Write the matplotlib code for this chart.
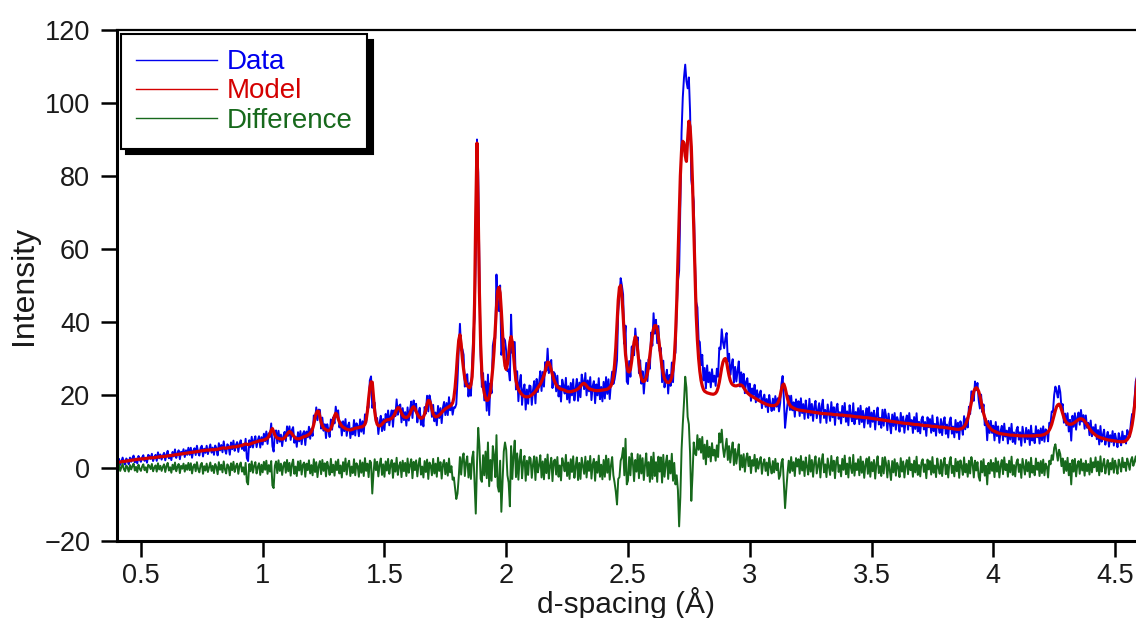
import matplotlib.pyplot as plt
import numpy as np

plt.rcParams["font.family"] = ["Liberation Sans", "DejaVu Sans"]

# d-spacing grid (Å), one sample every 0.005
d_spacing = np.round(np.linspace(0.40, 4.60, 841), 3)

# refined model (one row = 0.1 Å)
model = [
    1.5, 1.55, 1.6, 1.65, 1.7, 1.75, 1.8, 1.85, 1.9, 1.95, 2.0, 2.05, 2.1, 2.15, 2.2, 2.25, 2.3, 2.35, 2.4, 2.45,
    2.5, 2.5, 2.5, 2.55, 2.6, 2.65, 2.7, 2.75, 2.8, 2.8, 2.8, 2.85, 2.9, 2.95, 3.0, 3.05, 3.1, 3.1, 3.1, 3.15,
    3.2, 3.25, 3.3, 3.35, 3.4, 3.45, 3.5, 3.55, 3.6, 3.65, 3.7, 3.75, 3.8, 3.85, 3.9, 3.95, 4.0, 4.05, 4.1, 4.15,
    4.2, 4.25, 4.3, 4.35, 4.4, 4.45, 4.5, 4.55, 4.6, 4.65, 4.7, 4.75, 4.8, 4.85, 4.9, 4.9, 4.9, 4.95, 5.0, 5.0,
    5.0, 5.05, 5.1, 5.15, 5.2, 5.3, 5.4, 5.5, 5.5, 5.45, 5.4, 5.5, 5.6, 5.65, 5.7, 5.75, 5.8, 5.8, 5.8, 5.9,
    6.0, 6.05, 6.1, 6.2, 6.3, 6.5, 6.6, 6.5, 6.4, 6.5, 6.6, 6.75, 6.9, 7.0, 7.1, 7.2, 7.3, 7.4, 7.5, 7.55,
    7.6, 7.7, 7.8, 8.0, 8.2, 8.7, 9.5, 10.3, 10.8, 10.0, 9.0, 8.5, 8.2, 8.1, 8.0, 7.95, 7.9, 8.0, 8.3, 8.7,
    9.2, 9.7, 10.0, 9.8, 9.4, 8.9, 8.5, 8.2, 8.0, 8.0, 8.0, 8.1, 8.3, 8.45, 8.6, 8.7, 8.8, 9.0, 9.2, 9.5,
    10.0, 10.8, 12.0, 13.8, 15.0, 15.6, 15.5, 14.0, 12.5, 11.6, 11.0, 10.7, 10.5, 10.3, 10.2, 10.4, 10.8, 11.7, 13.0, 14.3,
    15.0, 14.6, 13.5, 12.6, 12.0, 11.5, 11.2, 11.0, 10.8, 10.6, 10.5, 10.45, 10.4, 10.5, 10.6, 10.75, 10.9, 10.95, 11.0, 11.1,
    11.2, 11.25, 11.3, 11.6, 12.0, 13.2, 15.5, 19.0, 22.0, 23.6, 23.5, 19.5, 15.5, 13.2, 12.0, 11.6, 11.5, 11.7, 12.0, 12.4,
    12.8, 13.0, 13.2, 13.25, 13.3, 13.45, 13.6, 14.0, 14.5, 15.2, 16.0, 16.5, 16.5, 15.8, 15.0, 14.4, 14.0, 13.9, 13.8, 14.0,
    14.3, 14.9, 15.8, 16.5, 16.8, 16.3, 15.5, 14.8, 14.2, 13.8, 13.6, 13.7, 14.0, 14.8, 16.0, 17.5, 18.5, 18.4, 17.5, 16.0,
    14.8, 14.3, 14.0, 14.1, 14.2, 14.5, 14.8, 15.2, 15.6, 15.9, 16.2, 16.4, 16.6, 16.8, 17.0, 17.3, 17.8, 19.2, 22.0, 26.0,
    31.0, 35.0, 36.5, 34.0, 30.0, 27.0, 24.5, 23.2, 22.5, 22.2, 22.0, 22.8, 25.0, 32.0, 45.0, 70.0, 89.0, 70.0, 48.0, 34.0,
    26.0, 22.5, 20.5, 19.2, 18.5, 18.6, 19.5, 21.0, 24.0, 27.5, 32.0, 38.0, 44.0, 48.5, 49.5, 48.0, 43.0, 37.0, 31.0, 28.0,
    27.0, 28.5, 31.0, 34.5, 36.0, 34.5, 31.0, 27.0, 24.0, 22.5, 21.5, 21.0, 20.5, 20.1, 19.8, 19.6, 19.5, 19.5, 19.5, 19.6,
    19.8, 20.0, 20.3, 20.6, 21.0, 21.5, 22.0, 22.5, 23.0, 23.7, 24.5, 25.4, 26.5, 28.0, 29.0, 28.9, 28.0, 26.8, 25.5, 24.4,
    23.5, 22.8, 22.3, 22.0, 21.8, 21.6, 21.5, 21.4, 21.3, 21.1, 21.0, 20.9, 20.9, 20.9, 21.0, 21.1, 21.2, 21.3, 21.5, 21.7,
    22.0, 22.4, 22.8, 23.1, 23.2, 22.9, 22.5, 22.1, 21.8, 21.6, 21.5, 21.4, 21.3, 21.25, 21.2, 21.2, 21.2, 21.25, 21.3, 21.35,
    21.4, 21.45, 21.5, 21.6, 21.8, 22.1, 22.5, 23.4, 25.0, 28.3, 33.0, 39.5, 46.0, 49.5, 50.0, 47.0, 42.0, 36.0, 31.0, 28.2,
    26.5, 26.3, 27.0, 29.2, 32.0, 34.5, 36.0, 34.8, 32.0, 28.8, 26.0, 24.6, 23.8, 23.7, 24.0, 24.8, 26.0, 28.2, 31.0, 34.0,
    36.5, 38.2, 39.0, 39.0, 38.0, 35.8, 33.0, 30.0, 27.5, 25.8, 24.5, 23.9, 23.5, 23.4, 23.5, 24.0, 25.0, 27.0, 30.0, 36.0,
    45.0, 57.0, 70.0, 80.0, 87.0, 89.5, 89.0, 85.5, 84.0, 90.0, 95.0, 93.5, 88.0, 78.0, 66.0, 53.0, 42.0, 35.0, 30.0, 26.5,
    24.0, 22.5, 21.5, 21.0, 20.8, 20.6, 20.5, 20.4, 20.3, 20.25, 20.2, 20.3, 20.5, 21.0, 22.0, 23.5, 25.5, 27.5, 29.0, 29.8,
    30.0, 29.0, 27.0, 25.3, 24.0, 23.2, 22.8, 22.6, 22.5, 22.5, 22.6, 22.7, 22.8, 22.7, 22.5, 22.0, 21.5, 21.0, 20.6, 20.3,
    20.0, 19.8, 19.6, 19.4, 19.2, 19.0, 18.8, 18.6, 18.4, 18.2, 18.0, 17.85, 17.7, 17.55, 17.4, 17.3, 17.2, 17.15, 17.1, 17.1,
    17.1, 17.2, 17.4, 17.8, 18.5, 19.8, 21.5, 22.7, 23.0, 22.0, 20.5, 19.0, 17.8, 17.2, 16.8, 16.6, 16.4, 16.25, 16.1, 16.0,
    15.9, 15.85, 15.8, 15.75, 15.7, 15.65, 15.6, 15.55, 15.5, 15.45, 15.4, 15.35, 15.3, 15.25, 15.2, 15.15, 15.1, 15.05, 15.0, 14.95,
    14.9, 14.9, 14.9, 14.85, 14.8, 14.8, 14.8, 14.75, 14.7, 14.65, 14.6, 14.6, 14.6, 14.55, 14.5, 14.5, 14.5, 14.45, 14.4, 14.35,
    14.3, 14.3, 14.3, 14.25, 14.2, 14.15, 14.1, 14.05, 14.0, 14.0, 14.0, 13.95, 13.9, 13.85, 13.8, 13.8, 13.8, 13.75, 13.7, 13.65,
    13.6, 13.55, 13.5, 13.45, 13.4, 13.35, 13.3, 13.25, 13.2, 13.15, 13.1, 13.05, 13.0, 12.95, 12.9, 12.85, 12.8, 12.75, 12.7, 12.65,
    12.6, 12.55, 12.5, 12.45, 12.4, 12.35, 12.3, 12.25, 12.2, 12.2, 12.2, 12.15, 12.1, 12.05, 12.0, 11.95, 11.9, 11.9, 11.9, 11.85,
    11.8, 11.75, 11.7, 11.65, 11.6, 11.6, 11.6, 11.55, 11.5, 11.45, 11.4, 11.4, 11.4, 11.35, 11.3, 11.25, 11.2, 11.2, 11.2, 11.15,
    11.1, 11.05, 11.0, 10.95, 10.9, 10.85, 10.8, 10.75, 10.7, 10.65, 10.6, 10.6, 10.6, 10.7, 10.8, 11.0, 11.3, 11.8, 12.5, 13.5,
    14.8, 16.3, 18.0, 19.6, 21.0, 21.7, 22.0, 21.7, 21.0, 19.8, 18.2, 16.5, 15.0, 13.8, 12.8, 12.1, 11.5, 11.1, 10.7, 10.4,
    10.2, 10.05, 9.9, 9.75, 9.6, 9.5, 9.4, 9.35, 9.3, 9.25, 9.2, 9.15, 9.1, 9.05, 9.0, 9.0, 9.0, 8.95, 8.9, 8.9,
    8.9, 8.85, 8.8, 8.8, 8.8, 8.8, 8.8, 8.8, 8.8, 8.8, 8.8, 8.8, 8.8, 8.8, 8.8, 8.85, 8.9, 8.9, 8.9, 8.95,
    9.0, 9.1, 9.2, 9.4, 9.6, 9.9, 10.4, 11.1, 12.0, 13.2, 14.5, 15.8, 16.8, 17.3, 17.5, 17.0, 16.0, 14.9, 13.8, 13.0,
    12.5, 12.2, 12.0, 12.0, 12.0, 12.1, 12.3, 12.5, 12.8, 13.0, 13.3, 13.45, 13.5, 13.4, 13.2, 12.85, 12.4, 11.9, 11.3, 10.8,
    10.3, 9.9, 9.6, 9.3, 9.0, 8.8, 8.6, 8.45, 8.3, 8.2, 8.1, 8.0, 7.9, 7.8, 7.7, 7.65, 7.6, 7.55, 7.5, 7.45,
    7.4, 7.35, 7.3, 7.25, 7.2, 7.2, 7.2, 7.2, 7.3, 7.5, 7.8, 8.3, 9.0, 10.2, 11.8, 14.0, 17.0, 20.5, 24.0, 26.0,
    27.0,
]

# data minus model
difference = [
    0.6, -0.5, 0.9, -0.8, 0.2, 1.1, -0.3, -0.9, 0.7, 0.1, -1.0, 0.8, -0.4, 0.5, 1.2, -0.7, 0.3, -1.1, 0.9, -0.2,
    -0.8, 0.4, 1.0, -0.6, 0.2, -1.2, 0.9, 0.5, -0.3, 1.1, -0.9, 0.1, 0.7, -1.0, 1.3, -0.4, 0.6, -0.8, 0.3, 1.0,
    -1.1, 0.5, 1.4, -0.7, 0.2, -1.3, 0.9, -0.4, 1.5, -0.9, 0.3, 1.1, -1.4, 0.6, -0.2, 1.2, -1.0, 0.8, -0.5, 1.4,
    -0.6, 1.3, -1.5, 0.4, 1.0, -0.9, 1.6, -0.3, -1.2, 0.8, 1.4, -1.6, 0.5, -0.7, 1.2, -1.1, 0.2, 1.5, -0.8, 0.6,
    -1.4, 1.1, 0.3, -1.7, 1.6, -0.5, 0.9, -1.2, 1.8, -0.4, -1.5, 1.0, 0.4, -2.0, 1.3, -0.6, 1.7, -1.1, 0.5, 1.2,
    -1.6, 0.7, 1.5, -1.0, 0.2, -1.8, 1.4, -3.8, -4.5, 1.1, -0.9, 1.8, -1.3, 0.6, 1.6, -1.5, 0.3, 1.3, -1.9, 0.9,
    -1.2, 1.7, -0.5, 2.0, -1.6, 0.8, -1.0, 1.9, -4.8, -5.5, 0.6, 1.8, -1.4, 2.1, -0.8, 1.2, -1.9, 0.7, 1.6, -1.3,
    2.2, -0.9, 1.4, -2.1, 1.0, 2.3, -1.6, 0.4, -2.2, 1.8, -0.7, 2.0, -1.8, 0.9, 1.5, -2.4, 1.2, -0.6, 2.1, -1.5,
    0.8, -2.0, 2.4, -1.1, 1.6, -2.5, 0.5, 1.9, -1.7, 2.2, -0.8, 1.3, -2.3, 1.7, 0.2, -1.9, 2.5, -1.2, 0.9, -2.1,
    1.8, -0.6, 2.3, -1.5, 0.7, -2.6, 1.6, -0.9, 2.6, -1.8, 1.1, 2.0, -2.2, 0.4, -1.4, 2.4, -2.0, 1.3, 0.6, -2.4,
    2.1, -1.3, 1.5, -2.2, 2.7, -0.8, 1.2, -2.5, 2.0, 1.5, -7.0, -1.4, 2.4, -0.6, 1.7, -2.3, 0.9, 2.6, -1.9, 1.0,
    -2.4, 1.8, -0.7, 2.5, -1.6, 0.8, 2.2, -2.7, 1.3, -1.0, 2.8, -1.9, 0.5, 1.6, -2.5, 2.0, -0.9, 1.4, -2.2, 2.6,
    -1.3, 0.9, 2.4, -2.8, 1.7, -0.6, 2.1, -2.3, 1.0, 2.7, -1.8, 0.4, -2.6, 1.9, -1.1, 2.3, -3.0, 1.5, 0.7, -2.0,
    2.5, -1.5, 1.2, -2.4, 2.8, -0.8, 1.6, -2.9, 0.9, 2.2, -1.7, 1.4, -2.1, 2.6, -1.2, 0.5, -3.2, -2.6, -5.5, -8.5,
    -7.0, -2.5, 3.0, -1.8, 2.6, 4.0, -2.2, 1.5, 3.2, -2.6, 1.2, -3.0, 2.8, 4.5, -4.0, -12.5, 1.0, 11.0, 6.0, -3.0,
    -3.8, 3.5, -2.0, 4.5, -2.8, 7.0, -5.0, 2.2, -3.5, 6.0, 3.5, -2.5, 9.0, -5.0, -6.5, 2.0, -12.0, -4.0, 4.5, 7.0,
    5.0, -2.0, -4.0, -10.5, 6.0, -3.0, 3.5, 7.5, -2.5, 4.0, -3.2, 2.4, 5.0, -2.8, 1.6, 3.3, -3.5, 2.0, -1.9, 3.0,
    2.6, -2.7, 1.0, 3.2, -3.3, 2.9, -1.2, 0.8, 3.5, -2.6, 1.8, -3.1, 2.5, -1.4, 3.7, -2.9, 0.6, 2.8, -3.6, 1.9,
    2.3, -1.8, 3.0, -2.4, 0.7, -3.4, 2.7, 1.2, -0.9, 3.6, -2.2, 1.5, -3.0, 2.4, -1.1, 3.2, -2.7, 0.4, 2.9, -3.3,
    1.4, -3.0, 2.8, 0.6, -1.6, 3.1, -2.6, 1.9, -0.8, 3.3, -2.9, 1.0, 2.5, -3.5, 1.7, -1.3, 3.4, -2.4, 0.9, -3.1,
    2.2, -2.4, 3.4, -1.3, 2.5, -3.2, 0.7, 3.0, -2.0, -4.0, -6.5, -10.0, -3.0, -2.5, 2.0, 3.0, 5.5, -2.0, 8.0, -4.5,
    -3.5, 3.0, -2.0, 4.0, 1.5, -3.6, 2.2, -1.0, 3.8, -2.8, 3.5, -1.5, 2.7, -3.3, 0.9, 4.0, -2.2, 1.6, -3.8, 3.1,
    -3.0, 4.2, -2.2, 1.6, -3.8, 3.1, -1.0, 2.9, -4.0, 3.6, -2.4, 1.2, 3.4, -3.0, 2.0, -1.5, 3.9, -3.5, 1.4, -4.5,
    -2.0, -6.0, -16.0, -8.0, 5.0, 12.0, 18.0, 25.0, 22.0, 14.0, 12.0, 4.0, -9.0, -2.0, 7.0, 4.0, 3.5, 9.0, 5.0, 8.0,
    4.2, 8.5, 2.5, 6.4, 1.0, 7.5, 3.0, 5.8, 1.8, 6.8, 3.4, 5.0, 2.0, 6.2, 3.0, 9.5, 7.0, 10.5, 5.5, 3.0,
    5.5, 8.0, 2.2, 6.0, 1.5, 4.8, 7.0, 0.8, 5.2, 1.2, 4.0, 6.5, -0.5, 3.5, 0.2, 3.8, -1.0, 2.6, 4.0, 0.5,
    3.1, -1.4, 2.2, 0.6, 3.6, -1.0, 2.5, -0.2, 1.8, 3.0, -1.6, 1.2, 2.4, -0.8, 1.5, -2.0, 2.8, 0.3, -1.5, 1.9,
    -1.2, 2.5, -0.6, 1.3, -3.0, -2.0, 1.5, 2.5, -4.0, -11.0, -6.0, -1.5, 2.0, -1.3, 3.0, -0.8, 1.6, -2.2, 2.7, 0.4,
    2.4, -1.6, 3.3, -0.7, 1.8, -2.2, 2.9, 0.3, -1.8, 3.5, -1.0, 2.2, -2.4, 1.5, 3.2, -1.5, 0.6, 2.7, -2.6, 1.9,
    3.8, -1.2, 1.0, -2.5, 2.6, 0.4, -1.9, 3.3, -0.8, 2.0, -2.8, 1.7, 3.0, -1.1, 0.8, -2.3, 2.5, -0.5, 3.4, -1.7,
    1.2, -2.6, 2.9, 0.2, -1.4, 3.6, -2.1, 1.3, -0.6, 2.4, -2.0, 3.1, -1.3, 1.8, -2.7, 0.9, 2.6, -1.6, 3.0, -2.4,
    1.6, -0.9, 2.2, -2.9, 1.1, 3.2, -1.4, 0.5, -2.2, 2.8, -1.5, 3.0, 1.2, -2.6, 2.0, -0.7, -3.3, 1.9, -1.2, 2.4,
    -2.1, 1.4, 0.3, -2.5, 2.7, -1.0, 1.8, -2.6, 0.7, 2.2, -1.7, 2.9, -0.6, 1.1, -2.4, 2.0, -1.2, 3.1, -1.9, 0.8,
    -2.3, 1.5, 2.4, -1.1, 1.0, -2.8, 2.3, -0.4, 1.9, -1.8, 3.0, -1.3, 0.7, -2.5, 2.6, 0.1, -1.6, 2.2, -2.2, 1.4,
    2.8, -1.7, 0.9, -2.6, 1.6, 3.0, -1.4, 0.6, -2.3, 2.5, -0.9, 1.8, -2.7, 2.1, 0.5, -1.9, 2.9, -1.2, 1.1, -2.4,
    2.0, -1.5, 3.0, 1.2, -2.6, 2.0, -0.7, 1.6, -2.4, -3.5, 1.9, -1.2, 2.4, -2.1, 0.6, -4.5, 1.4, -1.5, 2.2, -0.8,
    1.4, -2.5, 2.7, -1.0, 1.8, -2.6, 0.7, 2.2, -1.7, 2.9, -0.6, 1.1, -2.4, 2.0, -1.2, 3.1, -1.9, 0.8, -2.3, 1.5,
    2.4, -1.1, 1.0, -2.7, 2.5, 0.3, -1.8, 2.2, -0.9, 1.6, -2.5, 2.8, -1.3, 0.6, -2.0, 2.6, -0.5, 1.5, -2.2, 1.9,
    -1.4, 2.3, -2.0, 1.2, 0.4, -2.6, 2.0, 1.0, 3.5, 2.2, 5.5, 6.5, 4.2, 2.0, 5.0, 3.8, 0.5, 2.6, -1.4, 1.9,
    -0.8, 2.8, -2.0, 1.2, -4.5, 2.2, -1.0, 2.5, -2.3, 0.8, 1.9, -1.6, 2.4, -0.7, 1.3, -2.1, 2.0, -0.9, 1.1, -1.8,
    2.7, -1.2, 1.6, 0.2, 2.9, -0.9, 1.8, -2.0, 3.2, -1.0, 1.0, 2.5, -1.5, 0.6, 2.2, -1.8, 1.4, -0.4, 2.6, -1.3,
    2.0, 0.4, -1.6, 2.3, 1.0, -1.0, 2.8, 0.2, 1.5, -0.8, 2.6, 1.2, -0.5, 2.1, 3.0, 0.6, 1.8, 3.2, 1.0, 2.5,
    2.0,
]

assert len(model) == len(d_spacing), len(model)
assert len(difference) == len(d_spacing), len(difference)

# measured data = model + difference
data = np.array(model) + np.array(difference)

fig = plt.figure(figsize=(11.36, 6.18), dpi=100)
ax = fig.add_axes([0.1026, 0.1246, 0.8974, 0.8269])

ax.plot(d_spacing, data, color="#0000ee", linewidth=1.4, label="Data")
ax.plot(d_spacing, model, color="#d40000", linewidth=2.3, label="Model")
ax.plot(d_spacing, difference, color="#17691c", linewidth=1.4, label="Difference")

ax.set_xlim(0.4, 4.586)
ax.set_ylim(-20, 120)

xticks = [0.5, 1, 1.5, 2, 2.5, 3, 3.5, 4, 4.5]
ax.set_xticks(xticks)
ax.set_xticklabels([f"{v:g}" for v in xticks])
ax.set_yticks(range(-20, 121, 20))

# оси: толстые слева и снизу, тонкая сверху, справа нет
ax.spines["right"].set_visible(False)
ax.spines["left"].set_linewidth(2.2)
ax.spines["bottom"].set_linewidth(2.2)
ax.spines["top"].set_linewidth(1.6)

ax.tick_params(direction="out", length=11.5, width=1.8, labelsize=19.5,
               colors="black", labelcolor="#1a1a1a")
ax.tick_params(axis="x", pad=4)
ax.tick_params(axis="y", pad=7.5)

ax.set_xlabel("d-spacing (Å)", fontsize=21.5, labelpad=-0.8, color="#1a1a1a")
ax.set_ylabel("Intensity", fontsize=23, labelpad=4, color="#1a1a1a")

leg = ax.legend(loc="upper left", bbox_to_anchor=(0, 1), borderaxespad=0.15,
                fontsize=20, frameon=True, fancybox=False,
                shadow={"ox": 4, "oy": -4, "color": "black", "alpha": 1},
                handlelength=2.9, handletextpad=0.35, borderpad=0.55,
                labelspacing=0.11, labelcolor="linecolor")
leg.get_frame().set_edgecolor("black")
leg.get_frame().set_linewidth(1.5)
leg.get_frame().set_alpha(1)
for line in leg.get_lines():
    line.set_linewidth(1.0)

fig.savefig("out.png", dpi=100)
